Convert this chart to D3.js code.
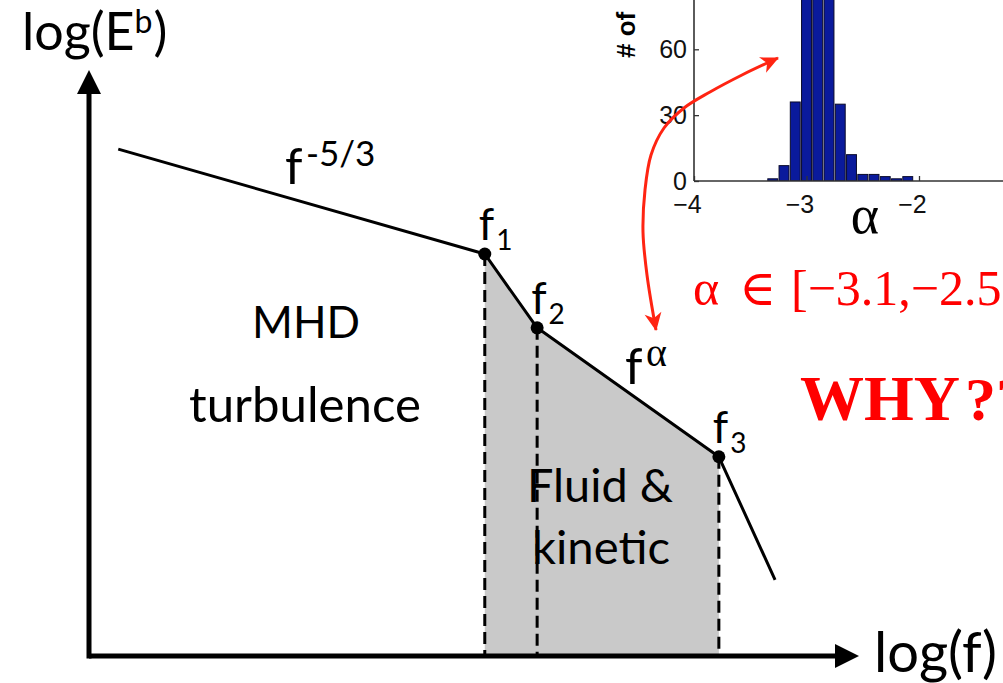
<!DOCTYPE html>
<html>
<head>
<meta charset="utf-8">
<script src="https://cdn.jsdelivr.net/npm/d3@7/dist/d3.min.js"></script>
<style>
  html, body { margin: 0; padding: 0; background: #fff; }
  svg { display: block; }
</style>
</head>
<body>
<svg id="chart" width="1003" height="683"></svg>
<script>
// ---------------- data ----------------
// schematic spectrum: log(f) vs log(E^b), in arbitrary axis units (0..100)
const spectrumLogF = [3.8, 51.4, 58.2, 81.8, 89.1];
const spectrumLogE = [86.5, 68.6, 56.0, 34.0, 13.0];
const breakIndices = [1, 2, 3];
const breakLabels = ["1", "2", "3"];

// inset histogram of alpha
const histBinCenters = [-3.3, -3.2, -3.1, -3.0, -2.9, -2.8, -2.7, -2.6, -2.5, -2.4, -2.3, -2.2, -2.1];
const histCounts     = [1, 7, 36, 98, 112, 104, 35, 12, 3, 3, 2, 1, 2];
const histBinWidth = 0.1;
const insetYTicks = [0, 30, 60];
const insetXTicks = [-4, -3, -2];

// ---------------- setup ----------------
const svg = d3.select("#chart");
const SANS = "Lato, 'Open Sans', sans-serif";
const SERIF = "'Liberation Serif', 'DejaVu Serif', serif";
const ISANS = "'Liberation Sans', Arial, sans-serif";

function fitWidth(sel, target) {
  const w = sel.node().getComputedTextLength();
  const fs = parseFloat(sel.attr("font-size"));
  sel.attr("font-size", fs * target / w);
  return sel;
}

const x = d3.scaleLinear().domain([0, 100]).range([89, 859]);
const y = d3.scaleLinear().domain([0, 100]).range([656, 70]);

const pts = spectrumLogF.map((f, i) => [f, spectrumLogE[i]]);

// gray region between f1 and f3
const regionPts = pts.slice(breakIndices[0], breakIndices[2] + 1);
svg.append("path")
  .datum(regionPts)
  .attr("d", d3.area().x(d => x(d[0])).y0(y(0)).y1(d => y(d[1])))
  .attr("fill", "#c9c9c9");

// dashed drops
svg.append("g").selectAll("line")
  .data(breakIndices.map(i => pts[i]))
  .join("line")
  .attr("x1", d => x(d[0])).attr("x2", d => x(d[0]))
  .attr("y1", d => y(d[1])).attr("y2", y(0))
  .attr("stroke", "#000")
  .attr("stroke-width", 3)
  .attr("stroke-dasharray", "12,6");

// spectrum line
svg.append("path")
  .datum(pts)
  .attr("d", d3.line().x(d => x(d[0])).y(d => y(d[1])))
  .attr("fill", "none")
  .attr("stroke", "#000")
  .attr("stroke-width", 3)
  .attr("stroke-linejoin", "round");

// break dots
svg.append("g").selectAll("circle")
  .data(breakIndices.map(i => pts[i]))
  .join("circle")
  .attr("cx", d => x(d[0])).attr("cy", d => y(d[1]))
  .attr("r", 6.5)
  .attr("fill", "#000");

// axes with arrows
const axisW = 5;
const headL = 24, headH = 12;
svg.append("line")
  .attr("x1", x(0)).attr("x2", x(100) - headL + 2)
  .attr("y1", y(0)).attr("y2", y(0))
  .attr("stroke", "#000").attr("stroke-width", axisW);
svg.append("line")
  .attr("x1", x(0)).attr("x2", x(0))
  .attr("y1", y(0) + axisW / 2).attr("y2", y(100) + headL - 2)
  .attr("stroke", "#000").attr("stroke-width", axisW);
svg.append("path")
  .attr("d", `M${x(100)},${y(0)} L${x(100) - headL},${y(0) - headH} L${x(100) - headL},${y(0) + headH} Z`)
  .attr("fill", "#000");
svg.append("path")
  .attr("d", `M${x(0)},${y(100)} L${x(0) - headH},${y(100) + headL} L${x(0) + headH},${y(100) + headL} Z`)
  .attr("fill", "#000");

// axis titles
const yTitle = svg.append("text")
  .attr("x", 22).attr("y", 50)
  .attr("font-family", SANS).attr("font-size", 52).attr("fill", "#000");
yTitle.append("tspan").text("log(E");
yTitle.append("tspan").text("b").attr("font-size", 32).attr("dy", -17);
yTitle.append("tspan").text(")").attr("dy", 17).attr("dx", 1);

const xTitle = svg.append("text")
  .attr("x", 874).attr("y", 672)
  .attr("font-family", SANS).attr("font-size", 54).attr("fill", "#000")
  .text("log(f)");
fitWidth(xTitle, 123);

// break labels f1, f2, f3
breakIndices.forEach((bi, k) => {
  const t = svg.append("text")
    .attr("x", x(pts[bi][0]) - 6)
    .attr("y", y(pts[bi][1]) - 14)
    .attr("font-family", SANS).attr("font-size", 44).attr("fill", "#000");
  t.append("tspan").text("f");
  t.append("tspan").text(breakLabels[k]).attr("font-size", 28).attr("dy", 10).attr("dx", 2);
});

// slope labels
svg.append("text")
  .attr("x", 285).attr("y", 184)
  .attr("font-family", SANS).attr("font-size", 50).attr("fill", "#000")
  .text("f");
svg.append("text")
  .attr("x", 306).attr("y", 166)
  .attr("font-family", SANS).attr("font-size", 35).attr("fill", "#000")
  .text("-5/3");

svg.append("text")
  .attr("x", 625).attr("y", 384)
  .attr("font-family", SANS).attr("font-size", 50).attr("fill", "#000")
  .text("f");
svg.append("text")
  .attr("x", 646).attr("y", 366)
  .attr("font-family", SERIF).attr("font-size", 40).attr("fill", "#000")
  .text("α");

// region labels
const regionText = [
  { t: "MHD", cx: 306, by: 338, w: 108 },
  { t: "turbulence", cx: 305, by: 422, w: 232 },
  { t: "Fluid &", cx: 600, by: 502, w: 146 },
  { t: "kinetic", cx: 601, by: 564, w: 138 }
];
regionText.forEach(r => {
  const s = svg.append("text")
    .attr("x", r.cx).attr("y", r.by)
    .attr("text-anchor", "middle")
    .attr("font-family", SANS).attr("font-size", 50).attr("fill", "#000")
    .text(r.t);
  fitWidth(s, r.w);
});

// ---------------- inset histogram ----------------
const xi = d3.scaleLinear().domain([-4, -2]).range([694, 919]);
const yi = d3.scaleLinear().domain([0, 60]).range([181, 49.3]);
const inset = svg.append("g");

svg.append("defs").append("clipPath").attr("id", "insetClip")
  .append("rect").attr("x", xi(-4)).attr("y", 0).attr("width", 1003 - xi(-4)).attr("height", yi(0));

inset.append("g").attr("clip-path", "url(#insetClip)")
  .selectAll("rect")
  .data(histBinCenters.map((c, i) => ({ c, v: histCounts[i] })))
  .join("rect")
  .attr("x", d => xi(d.c - histBinWidth * 0.44))
  .attr("width", d => xi(d.c + histBinWidth * 0.44) - xi(d.c - histBinWidth * 0.44))
  .attr("y", d => yi(d.v))
  .attr("height", d => yi(0) - yi(d.v))
  .attr("fill", "#0a1a9c")
  .attr("stroke", "#0a0a2a")
  .attr("stroke-width", 1);

const fmt = d3.format("d");
const yAx = inset.append("g")
  .attr("transform", `translate(${xi(-4)},0)`)
  .call(d3.axisLeft(yi).tickValues(insetYTicks).tickFormat(fmt).tickSizeInner(-5).tickSizeOuter(0).tickPadding(7));
yAx.select(".domain").remove();
yAx.selectAll("line").attr("stroke", "#333").attr("stroke-width", 1.3);
yAx.selectAll("text").attr("font-family", ISANS).attr("font-size", 25).attr("fill", "#111");

const xAx = inset.append("g")
  .attr("transform", `translate(0,${yi(0)})`)
  .call(d3.axisBottom(xi).tickValues(insetXTicks).tickFormat(fmt).tickSizeInner(-5).tickSizeOuter(0).tickPadding(14));
xAx.select(".domain").remove();
xAx.selectAll("line").attr("stroke", "#333").attr("stroke-width", 1.3);
xAx.selectAll("text").attr("font-family", ISANS).attr("font-size", 25).attr("fill", "#111").attr("dx", -7);

inset.append("line")
  .attr("x1", xi(-4)).attr("x2", xi(-4)).attr("y1", 0).attr("y2", yi(0))
  .attr("stroke", "#333").attr("stroke-width", 1.6);
inset.append("line")
  .attr("x1", xi(-4)).attr("x2", 1003).attr("y1", yi(0)).attr("y2", yi(0))
  .attr("stroke", "#333").attr("stroke-width", 1.6);

inset.append("text")
  .attr("transform", "translate(635,58) rotate(-90)")
  .attr("font-family", ISANS).attr("font-weight", "bold").attr("font-size", 26).attr("fill", "#000")
  .text("# of");

inset.append("text")
  .attr("x", 865).attr("y", 233)
  .attr("text-anchor", "middle")
  .attr("font-family", SERIF).attr("font-size", 54).attr("fill", "#000")
  .text("α");

// ---------------- red annotation ----------------
const RED = "#ff2412";
const defs = svg.select("defs");
defs.append("marker")
  .attr("id", "redHead")
  .attr("viewBox", "-20 -10 22 20")
  .attr("refX", 0).attr("refY", 0)
  .attr("markerWidth", 22).attr("markerHeight", 20)
  .attr("markerUnits", "userSpaceOnUse")
  .attr("orient", "auto-start-reverse")
  .append("path")
  .attr("d", "M1,0 L-17,-8.5 L-12,0 L-17,8.5 Z")
  .attr("fill", RED);

const arrowPts = [[656, 330], [647, 275], [643, 232], [645, 190], [651, 155], [664, 128], [684, 108], [710, 92], [742, 75], [778, 58]];
svg.append("path")
  .datum(arrowPts)
  .attr("d", d3.line().curve(d3.curveCatmullRom.alpha(0.5)))
  .attr("fill", "none")
  .attr("stroke", RED)
  .attr("stroke-width", 3)
  .attr("marker-start", "url(#redHead)")
  .attr("marker-end", "url(#redHead)");

svg.append("text").attr("x", 693).attr("y", 305)
  .attr("font-family", SERIF).attr("font-size", 50).attr("fill", "#f00").text("α");
svg.append("text").attr("x", 739).attr("y", 305)
  .attr("font-family", SERIF).attr("font-size", 50).attr("fill", "#f00").text("∈");
svg.append("text").attr("x", 791).attr("y", 305)
  .attr("font-family", SERIF).attr("font-size", 50).attr("fill", "#f00").text("[−3.1,−2.5]");

const why = svg.append("text").attr("x", 800).attr("y", 420)
  .attr("font-family", SERIF).attr("font-weight", "bold").attr("font-size", 62).attr("fill", "#f00")
  .text("WHY");
fitWidth(why, 160);
svg.append("text").attr("x", 965).attr("y", 420)
  .attr("font-family", SERIF).attr("font-weight", "bold").attr("font-size", 62).attr("fill", "#f00")
  .text("??");
</script>
</body>
</html>
